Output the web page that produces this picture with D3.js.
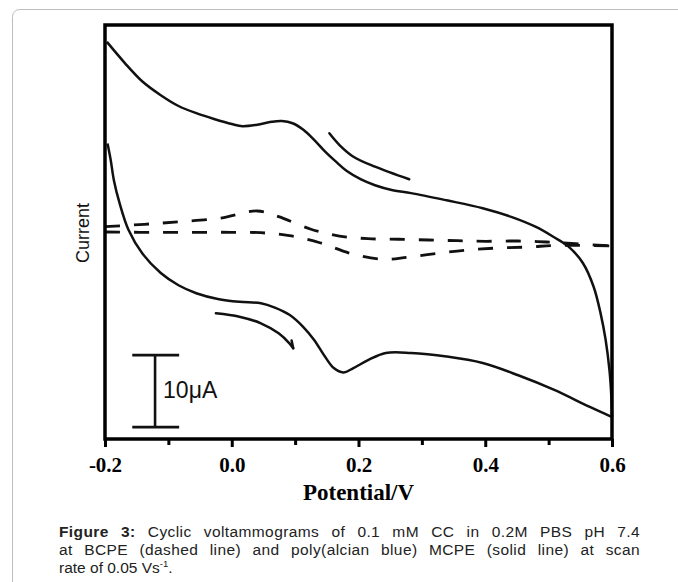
<!DOCTYPE html>
<html><head><meta charset="utf-8">
<script src="https://cdn.jsdelivr.net/npm/d3@7"></script>
<style>html,body{margin:0;padding:0;background:#fff;} svg{display:block}</style>
</head><body>
<svg id="chart" width="678" height="582"></svg>
<script>
// ---------------- data ----------------
const xTicks = [-0.2, 0.0, 0.2, 0.4, 0.6];
const xTickLabels = ["-0.2", "0.0", "0.2", "0.4", "0.6"];
const xMinorTicks = [-0.1, 0.1, 0.3, 0.5];

// poly(alcian blue) MCPE, solid line — upper branch (potential V, current µA)
const mcpeUpperE = [-0.197,-0.169,-0.141,-0.112,-0.084,-0.056,-0.028,0.000,0.017,0.040,0.063,0.079,0.096,0.113,0.130,0.147,0.164,0.181,0.204,0.226,0.254,0.283,0.339,0.396,0.441,0.480,0.508,0.531,0.554,0.571,0.582,0.590,0.596,0.599,0.600];
const mcpeUpperI = [26.4,23.5,20.9,19.0,17.5,16.5,15.7,15.0,14.7,14.9,15.3,15.4,15.1,14.2,12.8,11.2,9.8,8.5,7.3,6.5,5.8,5.4,4.4,3.3,2.1,0.7,-0.7,-2.0,-4.3,-7.6,-11.3,-15.0,-19.2,-22.9,-25.7];
// MCPE lower branch
const mcpeLowerE = [0.600,0.565,0.508,0.452,0.396,0.339,0.283,0.243,0.215,0.192,0.176,0.161,0.147,0.130,0.113,0.091,0.068,0.046,0.012,-0.022,-0.056,-0.084,-0.112,-0.141,-0.163,-0.177,-0.186,-0.191,-0.196];
const mcpeLowerI = [-25.7,-24.3,-21.9,-19.9,-18.2,-17.3,-16.8,-16.8,-17.8,-18.9,-19.5,-18.9,-17.3,-15.0,-13.2,-11.5,-10.5,-9.9,-9.7,-9.3,-8.5,-7.4,-5.7,-3.0,0.3,4.0,7.2,10.0,12.3];

// BCPE, dashed line — upper branch
const bcpeUpperE = [-0.200,-0.138,-0.082,-0.017,0.040,0.074,0.125,0.170,0.215,0.263,0.311,0.356,0.401,0.452,0.497,0.542,0.600];
const bcpeUpperI = [0.74,1.07,1.43,1.94,2.92,2.13,0.38,-0.56,-0.93,-1.01,-1.11,-1.21,-1.29,-1.25,-1.39,-1.63,-1.94];
// BCPE lower branch
const bcpeLowerE = [-0.200,-0.144,-0.096,-0.048,0.000,0.046,0.091,0.139,0.187,0.238,0.277,0.325,0.373,0.421,0.469,0.514,0.600];
const bcpeLowerI = [0.00,-0.04,-0.04,-0.04,-0.04,-0.10,-0.51,-1.49,-2.96,-3.79,-3.51,-2.96,-2.50,-2.22,-2.08,-1.85,-1.94];

// scan-direction arrows
const arrowUpperE = [0.154,0.170,0.192,0.226,0.280];
const arrowUpperI = [13.71,12.08,10.46,9.07,7.32];
const arrowLowerE = [-0.025,0.012,0.046,0.074,0.091,0.097];
const arrowLowerI = [-11.29,-11.76,-12.68,-14.07,-15.46,-16.15];

// 10 µA scale bar
const scaleBarE = -0.121;
const scaleBarCapE = [-0.157, -0.083];
const scaleBarI = [-27.1, -17.1];
const scaleBarLabel = "10\u03BCA";

const xLabel = "Potential/V";
const yLabel = "Current";
const captionBold = "Figure 3:";
const captionLine1 = " Cyclic voltammograms of 0.1 mM CC in 0.2M PBS pH 7.4";
const captionLine2 = "at BCPE (dashed line) and poly(alcian blue) MCPE (solid line) at scan";
const captionLine3 = "rate of 0.05 Vs";
const captionSup = "-1";

// ---------------- drawing ----------------
const svg = d3.select("#chart");
const L = 105, R = 612, T = 25, B = 439;
const x = d3.scaleLinear().domain([-0.2, 0.6]).range([L, R]);
const y = d3.scaleLinear().domain([-28.75, 28.75]).range([B, T]);

svg.append("rect").attr("width", 678).attr("height", 582).attr("fill", "#fff");
// outer figure border
svg.append("rect").attr("x", 12.5).attr("y", 9.5).attr("width", 700).attr("height", 620)
  .attr("rx", 7).attr("fill", "none").attr("stroke", "#bdbdbd").attr("stroke-width", 1);

const line = d3.line().x(d => x(d[0])).y(d => y(d[1])).curve(d3.curveCatmullRom.alpha(0.5));
const zip = (a, b) => a.map((v, i) => [v, b[i]]);

const g = svg.append("g");
[[bcpeUpperE, bcpeUpperI], [bcpeLowerE, bcpeLowerI]].forEach(([e, i]) => {
  g.append("path").attr("d", line(zip(e, i))).attr("fill", "none")
    .attr("stroke", "#111").attr("stroke-width", 2.8).attr("stroke-dasharray", "15,14");
});
[[mcpeUpperE, mcpeUpperI], [mcpeLowerE, mcpeLowerI]].forEach(([e, i]) => {
  g.append("path").attr("d", line(zip(e, i))).attr("fill", "none")
    .attr("stroke", "#111").attr("stroke-width", 2.5).attr("stroke-linejoin", "round");
});
// arrows
[[arrowUpperE, arrowUpperI], [arrowLowerE, arrowLowerI]].forEach(([e, i]) => {
  g.append("path").attr("d", line(zip(e, i))).attr("fill", "none")
    .attr("stroke", "#111").attr("stroke-width", 2.5).attr("stroke-linecap", "round");
});
// barb on lower arrow tip
(function () {
  const n = arrowLowerE.length;
  const tx = x(arrowLowerE[n - 1]), ty = y(arrowLowerI[n - 1]);
  const px = x(arrowLowerE[n - 2]), py = y(arrowLowerI[n - 2]);
  const ang = Math.atan2(py - ty, px - tx) + 0.45;
  g.append("line").attr("x1", tx).attr("y1", ty)
    .attr("x2", tx + 8 * Math.cos(ang)).attr("y2", ty + 8 * Math.sin(ang))
    .attr("stroke", "#111").attr("stroke-width", 2.5).attr("stroke-linecap", "round");
})();

// scale bar
const sb = svg.append("g").attr("stroke", "#111").attr("stroke-width", 2.6);
sb.append("line").attr("x1", x(scaleBarE)).attr("x2", x(scaleBarE)).attr("y1", y(scaleBarI[0])).attr("y2", y(scaleBarI[1]));
scaleBarI.forEach(v => sb.append("line").attr("x1", x(scaleBarCapE[0])).attr("x2", x(scaleBarCapE[1])).attr("y1", y(v)).attr("y2", y(v)));
svg.append("text").attr("x", x(scaleBarE) + 8).attr("y", 398)
  .attr("font-family", "Liberation Sans, Arial, sans-serif").attr("font-size", 23).attr("fill", "#111")
  .text(scaleBarLabel);

// frame
svg.append("rect").attr("x", L).attr("y", T).attr("width", R - L).attr("height", B - T)
  .attr("fill", "none").attr("stroke", "#000").attr("stroke-width", 3.5);

// x axis ticks
const axisG = svg.append("g").attr("transform", `translate(0,${B})`)
  .call(d3.axisBottom(x).tickValues(xTicks).tickSize(8).tickSizeOuter(0).tickFormat((d, i) => xTickLabels[i]));
axisG.select(".domain").remove();
axisG.selectAll(".tick line").attr("stroke", "#000").attr("stroke-width", 3);
axisG.selectAll(".tick text").attr("font-family", "Liberation Serif, Times New Roman, serif")
  .attr("font-weight", "bold").attr("font-size", 21).attr("fill", "#000").attr("dy", null).attr("y", 33);
const minorG = svg.append("g").attr("transform", `translate(0,${B})`)
  .call(d3.axisBottom(x).tickValues(xMinorTicks).tickSize(6).tickSizeOuter(0).tickFormat(""));
minorG.select(".domain").remove();
minorG.selectAll(".tick line").attr("stroke", "#000").attr("stroke-width", 3);

// axis titles
svg.append("text").attr("x", (L + R) / 2).attr("y", 500).attr("text-anchor", "middle")
  .attr("font-family", "Liberation Serif, Times New Roman, serif").attr("font-weight", "bold")
  .attr("font-size", 23).attr("fill", "#000").text(xLabel);
svg.append("text").attr("transform", "translate(89,233) rotate(-90)").attr("text-anchor", "middle")
  .attr("font-family", "Liberation Sans, Arial, sans-serif").attr("font-size", 18).attr("fill", "#111")
  .text(yLabel);

// caption (justified lines 1-2)
const capFont = "Liberation Sans, Arial, sans-serif";
const capX = 59, capRight = 640, capSize = 15.5;
function justify(t, str) {
  const nSpaces = str.split(" ").length - 1;
  t.attr("letter-spacing", 0.4);
  const w1 = t.node().getBBox().width;
  t.attr("word-spacing", Math.max(0, (capRight - capX - w1) / nSpaces));
}
const c1 = svg.append("text").attr("x", capX).attr("y", 537).attr("font-family", capFont)
  .attr("font-size", capSize).attr("fill", "#222");
c1.append("tspan").attr("font-weight", "bold").text(captionBold);
c1.append("tspan").text(captionLine1);
justify(c1, captionBold + captionLine1);
const c2 = svg.append("text").attr("x", capX).attr("y", 555).attr("font-family", capFont)
  .attr("font-size", capSize).attr("fill", "#222").text(captionLine2);
justify(c2, captionLine2);
const c3 = svg.append("text").attr("x", capX).attr("y", 573).attr("font-family", capFont)
  .attr("font-size", capSize).attr("fill", "#222");
c3.append("tspan").text(captionLine3);
c3.append("tspan").attr("font-size", 9.5).attr("dy", -6).text(captionSup);
c3.append("tspan").attr("dy", 6).text(".");
</script>
</body></html>
